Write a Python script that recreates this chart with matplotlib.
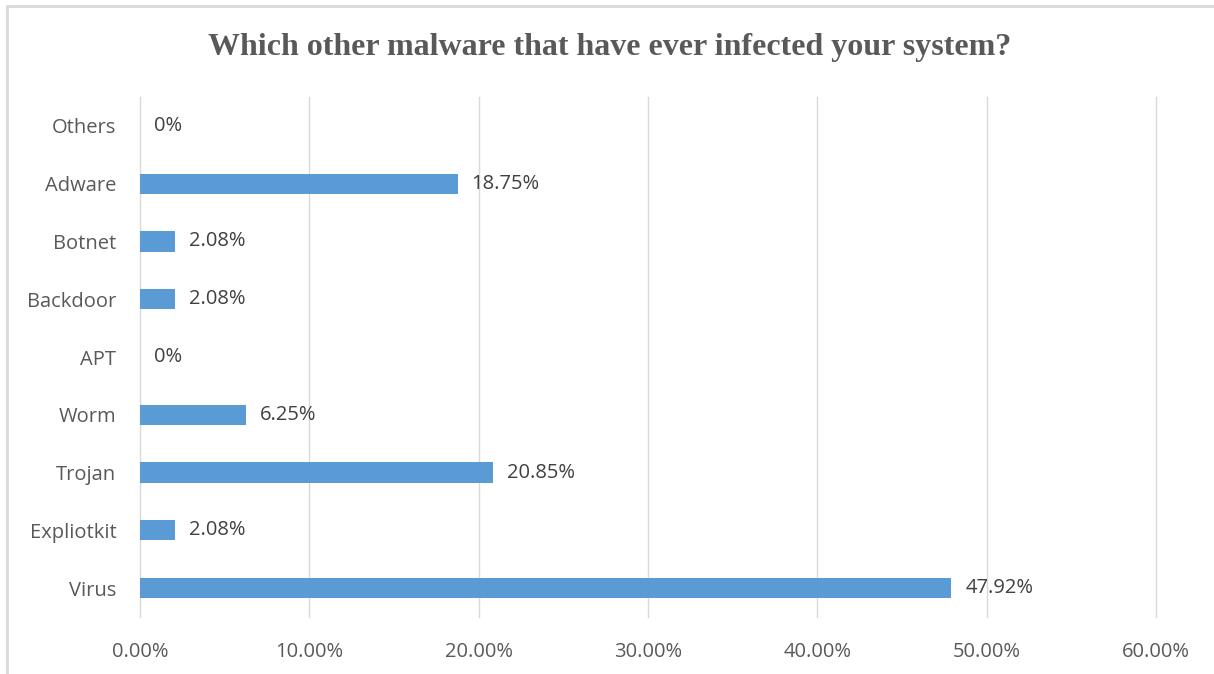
import matplotlib
matplotlib.use("Agg")
import matplotlib.pyplot as plt
from matplotlib.patches import Rectangle

categories = ["Virus", "Expliotkit", "Trojan", "Worm", "APT",
              "Backdoor", "Botnet", "Adware", "Others"]
values = [47.92, 2.08, 20.85, 6.25, 0.0, 2.08, 2.08, 18.75, 0.0]
value_labels = ["47.92%", "2.08%", "20.85%", "6.25%", "0%",
                "2.08%", "2.08%", "18.75%", "0%"]
x_ticks = [0, 10, 20, 30, 40, 50, 60]
x_tick_labels = ["0.00%", "10.00%", "20.00%", "30.00%", "40.00%", "50.00%", "60.00%"]
title = "Which other malware that have ever infected your system?"

bar_color = "#5B9BD5"
text_grey = "#595959"
label_grey = "#404040"
grid_grey = "#D9D9D9"
sans = ["Open Sans", "DejaVu Sans"]
fs = 14.5

fig = plt.figure(figsize=(12.14, 6.74), dpi=100)
fig.patch.set_facecolor("white")

# thin chart-area border along the top and left edges
fig.patches.append(Rectangle((7 / 1214, -0.1), 1.2, 1 - 6 / 674 + 0.1,
                             transform=fig.transFigure, fill=False,
                             edgecolor=grid_grey, linewidth=2, zorder=0))

ax = fig.add_axes([140 / 1214, 1 - 617 / 674, (1156 - 140) / 1214, (617 - 97) / 674])
ypos = list(range(len(categories)))
ax.barh(ypos, values, height=0.35, color=bar_color, zorder=2)

ax.set_xlim(0, 60)
ax.set_ylim(-0.5, len(categories) - 0.5)
ax.set_xticks(x_ticks)
ax.set_xticklabels(x_tick_labels, fontfamily=sans, fontsize=fs, color=text_grey)
ax.set_yticks(ypos)
ax.set_yticklabels(categories, fontfamily=sans, fontsize=fs, color=text_grey)
ax.tick_params(axis="both", length=0)
ax.tick_params(axis="y", pad=17)
ax.tick_params(axis="x", pad=18)
for s in ax.spines.values():
    s.set_visible(False)
for t in x_ticks:
    ax.axvline(t, color=grid_grey, linewidth=1, zorder=0, clip_on=False)

for y, v, lab in zip(ypos, values, value_labels):
    ax.annotate(lab, (v, y), xytext=(10, 0), textcoords="offset points",
                ha="left", va="center", fontfamily=sans, fontsize=fs,
                color=label_grey, zorder=3)

fig.text(0.502, 1 - 48 / 674, title, ha="center", va="center",
         fontfamily="Liberation Serif", fontweight="bold", fontsize=23,
         color=text_grey)

fig.savefig("out.png", dpi=100)
